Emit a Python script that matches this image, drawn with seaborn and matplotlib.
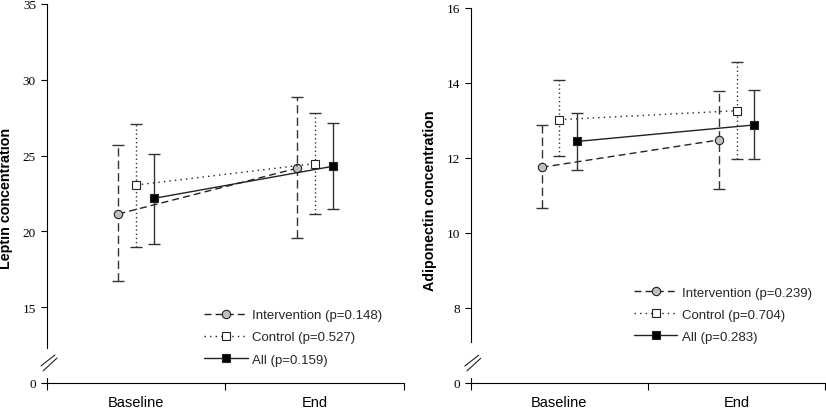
import numpy as np
import pandas as pd
import matplotlib
matplotlib.use('Agg')
import matplotlib.pyplot as plt
import seaborn as sns

# data
categories = ['Baseline', 'End']
groups = ['Intervention', 'Control', 'All']

leptin_p = ['0.148', '0.527', '0.159']
leptin_int = [21.15, 24.16]
leptin_int_lo = [16.73, 19.54]
leptin_int_hi = [25.70, 28.84]
leptin_ctl = [23.06, 24.47]
leptin_ctl_lo = [19.00, 21.15]
leptin_ctl_hi = [27.10, 27.79]
leptin_all = [22.18, 24.29]
leptin_all_lo = [19.20, 21.50]
leptin_all_hi = [25.13, 27.13]

adipo_p = ['0.239', '0.704', '0.283']
adipo_int = [11.75, 12.48]
adipo_int_lo = [10.67, 11.18]
adipo_int_hi = [12.89, 13.78]
adipo_ctl = [13.02, 13.26]
adipo_ctl_lo = [12.04, 11.97]
adipo_ctl_hi = [14.09, 14.57]
adipo_all = [12.44, 12.88]
adipo_all_lo = [11.67, 11.96]
adipo_all_hi = [13.21, 13.81]

sns.set_theme(style='ticks')
plt.rcParams['font.family'] = ['Liberation Sans', 'DejaVu Sans']

offsets = {'Intervention': -0.1, 'Control': 0.0, 'All': 0.1}
line_ls = {'Intervention': (0, (5, 3)), 'Control': (0, (1, 3)), 'All': '-'}
bar_ls = {'Intervention': (0, (6, 3)), 'Control': (0, (1, 2)), 'All': '-'}
markers = {'Intervention': 'o', 'Control': 's', 'All': 's'}
face = {'Intervention': '#c0c0c0', 'Control': 'white', 'All': 'black'}
ink = '#222222'


def draw_panel(ax, means, lows, highs, pvals, ylabel, yticks, spine_lo):
    for g, m, lo, hi, p in zip(groups, means, lows, highs, pvals):
        x = np.arange(len(categories)) + 0.5 + offsets[g]
        m = np.array(m)
        err = [m - np.array(lo), np.array(hi) - m]
        eb = ax.errorbar(x, m, yerr=err, fmt='none', ecolor='#333333',
                         elinewidth=1, capsize=4, capthick=1)
        eb[2][0].set_linestyle(bar_ls[g])
        df = pd.DataFrame({'x': x, 'y': m})
        sns.lineplot(data=df, x='x', y='y', ax=ax, estimator=None, sort=False,
                     color=ink, linestyle=line_ls[g], linewidth=1,
                     marker=markers[g], markersize=6, markerfacecolor=face[g],
                     markeredgecolor=ink, markeredgewidth=0.8,
                     label=f'{g} (p={p})')

    ax.set_xlim(0, 2)
    ax.set_ylim(yticks[0], yticks[-1])
    ax.set_xticks([0, 1, 2], ['', '', ''])
    ax.set_xticks([0.5, 1.5], categories, minor=True)
    ax.tick_params(axis='x', which='major', length=5, width=0.8, color='black')
    ax.tick_params(axis='x', which='minor', length=0, pad=9, labelsize=10.5,
                   labelcolor='black')
    ylabels = ['0'] + [str(int(t)) for t in yticks[1:]]
    ax.set_yticks(yticks, ylabels, fontfamily='Liberation Serif', fontsize=9.5)
    ax.tick_params(axis='y', length=4, width=0.8, pad=4, color='black',
                   labelcolor='black')
    ax.set_xlabel('')
    ax.set_ylabel(ylabel, fontsize=10.3, fontweight='bold', color='black')
    ax.yaxis.set_label_coords(-0.095, 0.49)
    sns.despine(ax=ax)
    for s in ['left', 'bottom']:
        ax.spines[s].set_color('black')
        ax.spines[s].set_linewidth(0.8)
    ax.spines['left'].set_bounds(spine_lo, yticks[-1])

    # axis break marks
    tr = ax.transAxes
    ax.plot([0, 0], [0, 0.012], transform=tr, color='black', lw=0.8, clip_on=False)
    ax.plot([-0.017, 0.022], [0.045, 0.074], transform=tr, color=ink, lw=0.8, clip_on=False)
    ax.plot([-0.011, 0.028], [0.032, 0.066], transform=tr, color=ink, lw=0.8, clip_on=False)


fig = plt.figure(figsize=(8.26, 4.14), dpi=100)
ax1 = fig.add_axes([0.057, 0.0725, 0.432, 0.9155])
ax2 = fig.add_axes([0.570, 0.0725, 0.429, 0.906])

draw_panel(ax1, [leptin_int, leptin_ctl, leptin_all],
           [leptin_int_lo, leptin_ctl_lo, leptin_all_lo],
           [leptin_int_hi, leptin_ctl_hi, leptin_all_hi],
           leptin_p, 'Leptin concentration', [10, 15, 20, 25, 30, 35], 12.3)
draw_panel(ax2, [adipo_int, adipo_ctl, adipo_all],
           [adipo_int_lo, adipo_ctl_lo, adipo_all_lo],
           [adipo_int_hi, adipo_ctl_hi, adipo_all_hi],
           adipo_p, 'Adiponectin concentration', [6, 8, 10, 12, 14, 16], 7.1)

leg_kw = dict(loc='lower left', frameon=False, fontsize=9.5, handlelength=3.3,
              handletextpad=0.35, labelspacing=0.75, borderaxespad=0)
ax1.legend(bbox_to_anchor=(0.425, 0.032), **leg_kw)
ax2.legend(bbox_to_anchor=(0.445, 0.093), **leg_kw)

fig.savefig('out.png', dpi=100)
